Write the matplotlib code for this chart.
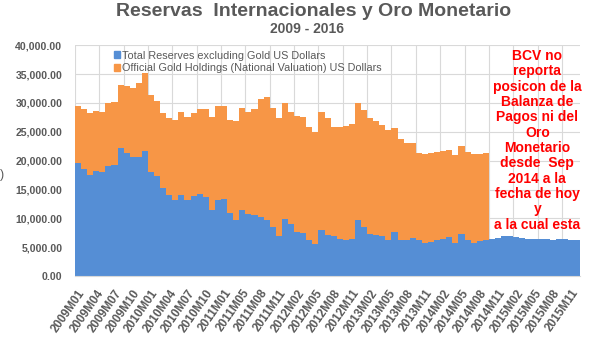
import numpy as np
import matplotlib
matplotlib.use("Agg")
import matplotlib.pyplot as plt
import matplotlib.ticker as mticker
from matplotlib.patches import Patch

plt.rcParams["font.family"] = ["Liberation Sans", "DejaVu Sans"]

# ── Data (millions of US$) ────────────────────────────────────────────────────
# months 2009M01 .. 2015M12, the source has no 2011M02 row
months = [f"{y}M{m:02d}" for y in range(2009, 2016) for m in range(1, 13)
          if f"{y}M{m:02d}" != "2011M02"]

reserves_ex_gold = [
    19600, 18600, 17600, 18200, 18100, 19000, 19200, 22200, 21400, 20700,
    20700, 21700, 18100, 17400, 15200, 14000, 13200, 14000, 13200, 13900,
    14200, 13700, 11400, 13200, 13300, 10900,  9800, 11500, 10700, 10600,
    10300,  9700,  8500,  6900,  9900,  9000,  7700,  7400,  6200,  5500,
     8000,  7100,  6900,  6500,  6300,  6500,  9800,  8500,  7300,  7200,
     6900,  6300,  7700,  6300,  6200,  6600,  6200,  5800,  5900,  6200,
     6500,  6700,  5800,  7300,  6300,  5800,  6100,  6300,  6400,  6600,
     7000,  7000,  6800,  6600,  6500,  6400,  6400,  6400,  6300,  6400,
     6400,  6300,  6300,
]

# gold position only reported up to 2014M09
gold_holdings = [
     9800, 10400, 10600, 10400, 10400, 10900, 11000, 10900, 11500, 11800,
    12800, 13400, 13200, 12900, 13100, 13400, 13800, 14500, 14300, 14300,
    14700, 15300, 16100, 16200, 16100, 16100, 17000, 17700, 17800, 18400,
    20300, 21300, 20600, 20500, 20000, 19400, 20000, 20100, 19600, 19500,
    20400, 20200, 19000, 19300, 19700, 19800, 20100, 20200, 20000, 19700,
    19200, 19000, 17900, 17400, 16800, 16400, 15200, 15400, 15400, 15300,
    15200, 15100, 15100, 15200, 15200, 15300, 15100, 15000,
]

series_labels = [
    "Total Reserves excluding Gold US Dollars",
    "Official Gold Holdings (National Valuation) US Dollars",
]

note_lines = [
    "BCV no", "reporta", "posicon de la", "Balanza de", "Pagos ni del",
    "Oro", "Monetario", "desde  Sep", "2014 a la", "fecha de hoy", "y",
    "a la cual esta",
]

BLUE   = "#558ED5"
ORANGE = "#F79646"
GRAY   = "#595959"
GRID   = "#D9D9D9"

# ── Figure ────────────────────────────────────────────────────────────────────
fig = plt.figure(figsize=(6.14, 3.5), dpi=100)
ax = fig.add_axes([0.122, 0.211, 0.823, 0.660])

x = np.arange(len(months))
edges = np.arange(len(months) + 1) - 0.5
res = np.array(reserves_ex_gold, dtype=float)
gold = np.array(gold_holdings, dtype=float)
n_gold = len(gold)

# stacked columns with no gap, drawn as filled stairs (no seams between bars)
ax.stairs(res, edges, baseline=0, fill=True, color=BLUE, zorder=2)
ax.stairs(res[:n_gold] + gold, edges[:n_gold + 1], baseline=res[:n_gold],
          fill=True, color=ORANGE, zorder=2)

ax.set_xlim(-0.5, len(months) - 0.5)
ax.set_ylim(0, 40000)

# gridlines: horizontal every 5,000, vertical every 4 categories
ax.set_yticks(np.arange(0, 40001, 5000))
ax.yaxis.set_major_formatter(mticker.FuncFormatter(lambda v, _: f"{v:,.2f}"))
ax.set_xticks(np.arange(-0.5, len(months), 4), minor=True)
ax.grid(True, axis="y", color=GRID, linewidth=0.8, zorder=0)
ax.grid(True, axis="x", which="minor", color=GRID, linewidth=0.8, zorder=0)
ax.set_axisbelow(True)

tick_pos = x[::3]
ax.set_xticks(tick_pos)
ax.set_xticklabels([months[i] for i in tick_pos], rotation=55, ha="right",
                   rotation_mode="anchor", fontsize=8.5, fontweight="bold",
                   color=GRAY)
for lab in ax.get_yticklabels():
    lab.set_fontsize(7.6)
    lab.set_fontweight("bold")
    lab.set_color(GRAY)

ax.tick_params(axis="both", which="both", length=0)
ax.tick_params(axis="x", pad=8)
ax.tick_params(axis="y", pad=9)
for side in ["top", "right", "left"]:
    ax.spines[side].set_visible(False)
ax.spines["bottom"].set_color(GRID)

handles = [Patch(color=BLUE), Patch(color=ORANGE)]
leg = ax.legend(handles, series_labels, loc="upper left",
                bbox_to_anchor=(0.068, 0.995), frameon=False, fontsize=7.8,
                handlelength=0.6, handleheight=0.6, handletextpad=0.2,
                labelspacing=0.22, borderaxespad=0)
for t in leg.get_texts():
    t.set_color(GRAY)

ax.text(0.915, 0.588, "\n".join(note_lines), transform=ax.transAxes,
        ha="center", va="center", color="#FF0000", fontsize=10,
        fontweight="bold", linespacing=1.12, zorder=5)

fig.text(0.51, 1 - 16 / 350, "Reservas  Internacionales y Oro Monetario",
         ha="center", va="baseline", fontsize=14, fontweight="bold",
         color=GRAY)
fig.text(0.5, 1 - 29 / 350, "2009 - 2016", ha="center", va="center",
         fontsize=10, fontweight="bold", color=GRAY)
fig.text(0.0, 1 - 175 / 350, ")", ha="left", va="center", fontsize=9,
         color=GRAY)

fig.savefig("out.png", dpi=100)
plt.close(fig)
